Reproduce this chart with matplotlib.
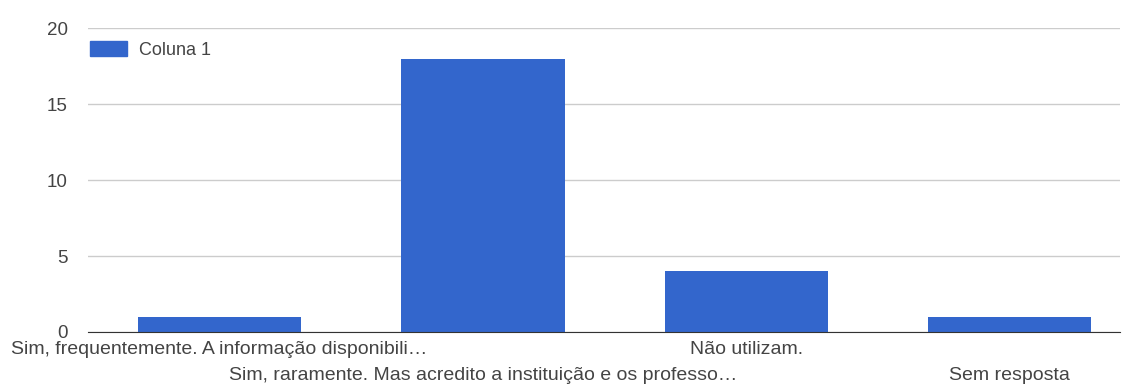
import numpy as np
import matplotlib.pyplot as plt
from matplotlib.patches import Patch

plt.rcParams['font.family'] = ['Liberation Sans', 'DejaVu Sans']

categories = ['Sim, frequentemente. A informação disponibili…',
              'Sim, raramente. Mas acredito a instituição e os professo…',
              'Não utilizam.',
              'Sem resposta']
values = [1, 18, 4, 1]
series_name = 'Coluna 1'

blue = '#3366cc'
text_col = '#444444'

fig = plt.figure(figsize=(11.29, 3.86), dpi=100)
ax = fig.add_axes([0.078, 0.140, 0.914, 0.787])

x = np.arange(len(categories))
ax.bar(x, values, width=0.62, color=blue, zorder=3)

ax.set_ylim(0, 20)
ax.set_xlim(-0.5, 3.42)
ax.set_yticks([0, 5, 10, 15, 20])
ax.yaxis.grid(True, color='#cccccc', linewidth=1, zorder=0)
ax.tick_params(axis='y', length=0, pad=14.5, labelsize=13.5, labelcolor=text_col)
ax.tick_params(axis='x', length=0)
ax.set_xticks(x)
ax.set_xticklabels([])

for s in ['top', 'right', 'left']:
    ax.spines[s].set_visible(False)
ax.spines['bottom'].set_color('#333333')
ax.spines['bottom'].set_zorder(4)

# alternating two-row category labels
for i, lab in enumerate(categories):
    off = -0.031 if i % 2 == 0 else -0.116
    ax.text(x[i], off, lab, transform=ax.get_xaxis_transform(),
            ha='center', va='top', fontsize=14, color=text_col)

ax.legend(handles=[Patch(color=blue, label=series_name)], loc='upper left',
          bbox_to_anchor=(-0.014, 1.012), frameon=False, fontsize=13,
          handlelength=2.05, handleheight=0.95, handletextpad=0.65,
          labelcolor=text_col)

fig.savefig('out.png', dpi=100)
